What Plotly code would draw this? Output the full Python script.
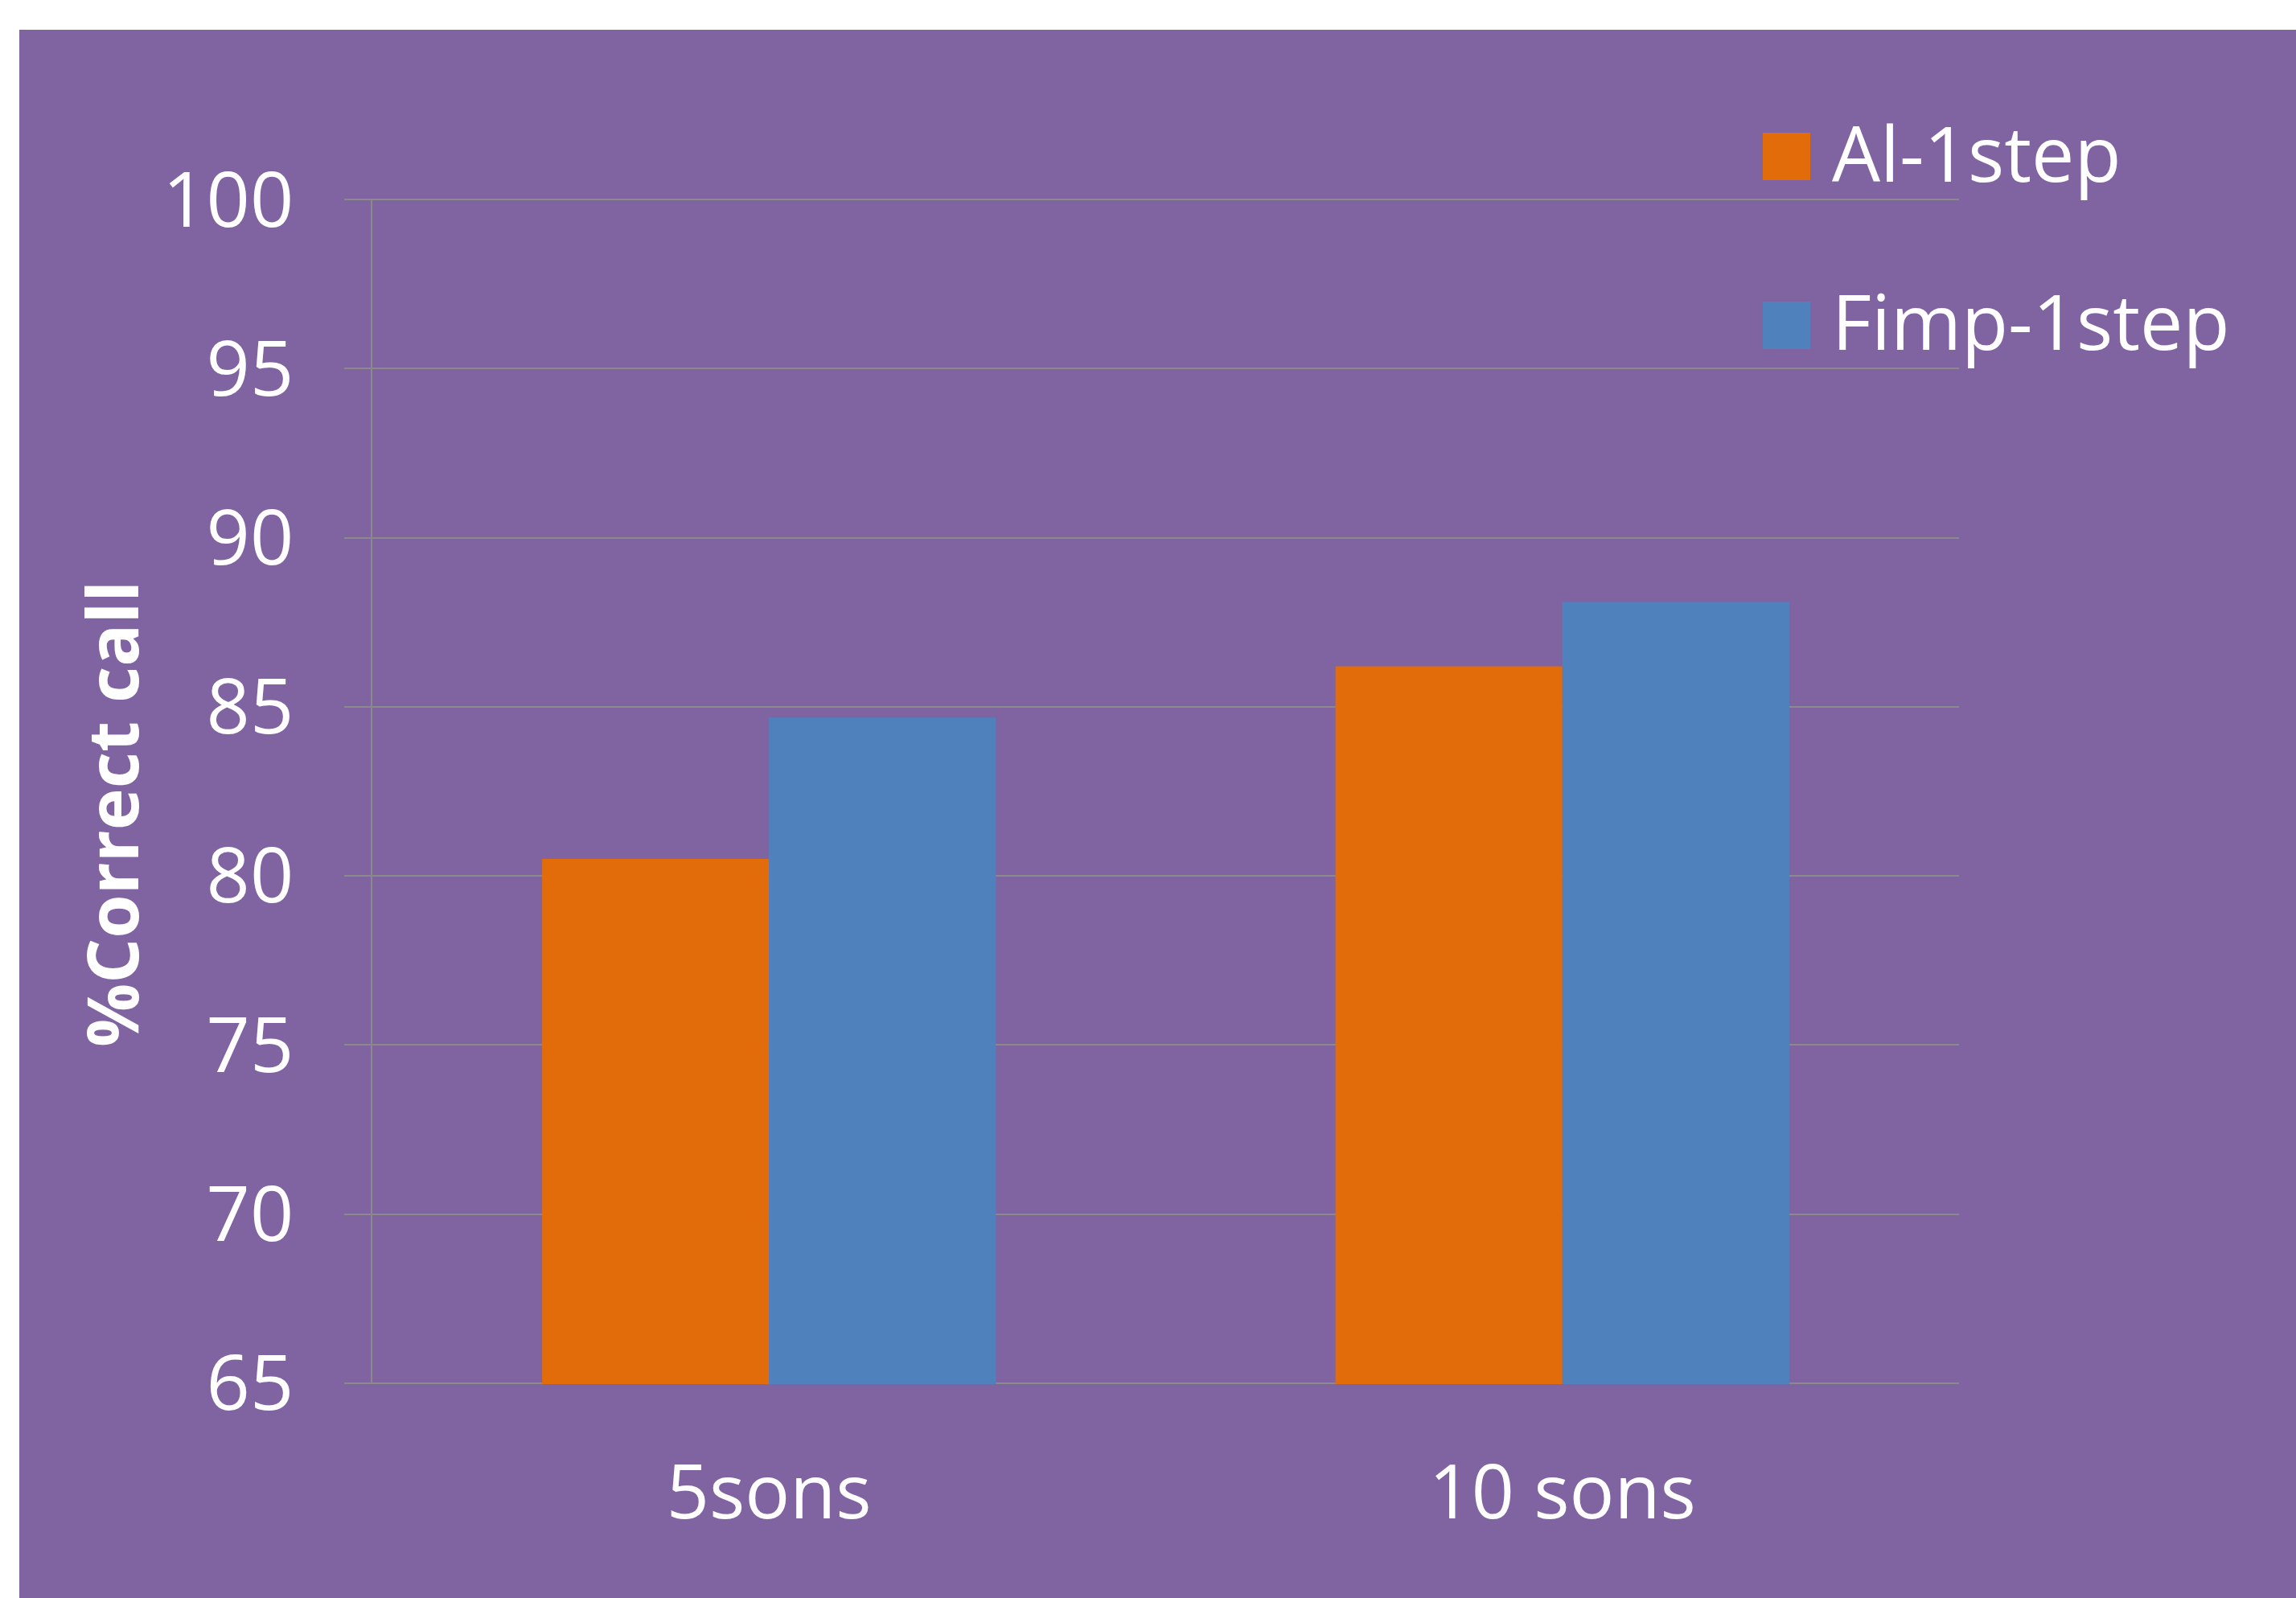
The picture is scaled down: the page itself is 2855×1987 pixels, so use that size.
import plotly.graph_objects as go

categories = ["5sons", "10 sons"]
series_names = ["Al-1step", "Fimp-1step"]
al_1step = [80.5, 86.2]
fimp_1step = [84.68, 88.1]
y_ticks = [65, 70, 75, 80, 85, 90, 95, 100]
y_title = "%Correct call"

series_values = [al_1step, fimp_1step]
colors = ["#E26B0A", "#4F81BD"]

W, H = 2855, 1987
ML, MR, MT, MB = 463, 2855 - 2436, 247, 1987 - 1721
PW, PH = W - ML - MR, H - MT - MB

def px(xp):
    return (xp - ML) / PW

def py(yp):
    return (H - MB - yp) / PH

FONT = "Open Sans, Calibri, Carlito, sans-serif"
GRID = "#8A8A8A"

fig = go.Figure()
for name, vals, col in zip(series_names, series_values, colors):
    fig.add_trace(go.Bar(x=categories, y=vals, name=name, marker_color=col,
                         marker_line_width=0, showlegend=False))

shapes = [dict(type="rect", xref="paper", yref="paper",
               x0=px(24), x1=px(W + 50), y0=py(H + 50), y1=py(37),
               fillcolor="#8064A2", line_width=0, layer="below")]
annotations = []
legend_rows = [(165, 224), (375, 434)]
for (t, b), name, col in zip(legend_rows, series_names, colors):
    shapes.append(dict(type="rect", xref="paper", yref="paper",
                       x0=px(2192), x1=px(2251), y0=py(b), y1=py(t),
                       fillcolor=col, line_width=0))
    annotations.append(dict(text=name, xref="paper", yref="paper",
                            x=px(2276), y=py((t + b) / 2 - 6), xanchor="left", yanchor="middle",
                            showarrow=False, font=dict(family=FONT, size=95, color="white")))

annotations.append(dict(text="<b>" + y_title + "</b>", xref="paper", yref="paper",
                        x=px(138), y=py(1012), textangle=-90, xanchor="center", yanchor="middle",
                        showarrow=False, font=dict(family=FONT, size=88, color="white")))

fig.update_layout(
    width=W, height=H,
    margin=dict(l=ML, r=MR, t=MT, b=MB, autoexpand=False),
    paper_bgcolor="white",
    plot_bgcolor="rgba(0,0,0,0)",
    barmode="group", bargap=0.428, bargroupgap=0,
    shapes=shapes, annotations=annotations,
    showlegend=False,
    font=dict(family=FONT, color="white"),
)
fig.update_xaxes(showline=False, showgrid=False, ticks="", zeroline=False,
                 tickfont=dict(family=FONT, size=93, color="white"),
                 ticklabelstandoff=73)
fig.update_yaxes(range=[64.97, 100.03], tickvals=y_ticks, ticktext=[str(v) for v in y_ticks],
                 showgrid=True, gridcolor=GRID, gridwidth=2,
                 showline=True, linecolor=GRID, linewidth=1.5,
                 ticks="outside", ticklen=33, tickcolor=GRID, tickwidth=2,
                 zeroline=False,
                 tickfont=dict(family=FONT, size=95, color="white"),
                 ticklabelstandoff=44)

fig.write_html("out.html", config={"displayModeBar": False},
               post_script="document.body.style.margin='0';document.body.style.overflow='hidden';")
